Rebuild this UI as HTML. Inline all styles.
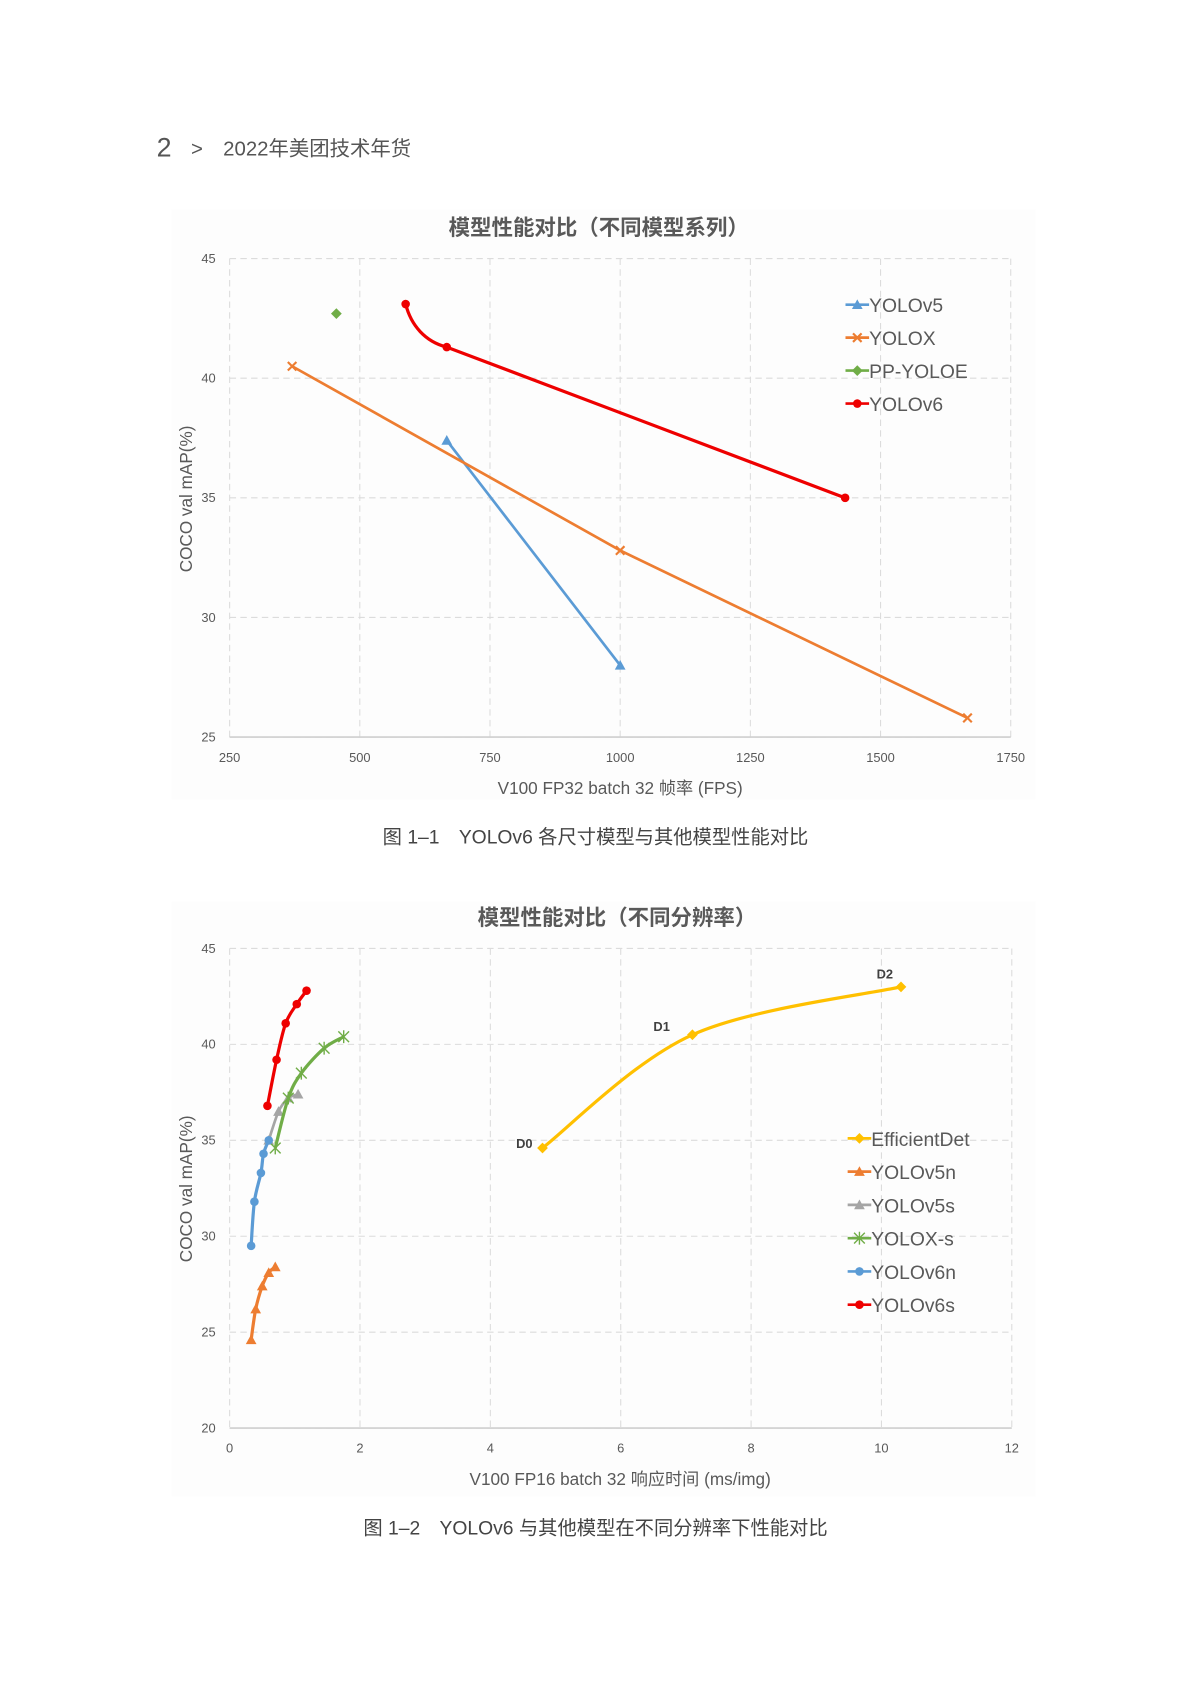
<!DOCTYPE html>
<html><head><meta charset="utf-8"><style>
html,body{margin:0;padding:0;background:#fff}
body{width:1191px;height:1683px;position:relative;overflow:hidden;font-family:"Liberation Sans","Noto Sans CJK SC",sans-serif}
svg{position:absolute;left:0;top:0}
</style></head><body>
<svg id="s" width="1191" height="1683" viewBox="0 0 1110 1568.6" xmlns="http://www.w3.org/2000/svg" font-family="Liberation Sans, Noto Sans CJK SC, sans-serif">
<text x="146" y="146" font-size="25" fill="#555">2</text>
<text x="178" y="145" font-size="19" fill="#555">&gt;</text>
<text x="208" y="145" font-size="19" fill="#555">2022年美团技术年货</text>
<rect x="160" y="195" width="805" height="550" fill="#fdfdfd"/>
<rect x="160" y="840" width="805" height="555" fill="#fdfdfd"/>
<text x="558" y="219" font-size="20" font-weight="bold" fill="#595959" text-anchor="middle">模型性能对比（不同模型系列）</text>
<text x="575" y="862" font-size="20" font-weight="bold" fill="#595959" text-anchor="middle">模型性能对比（不同分辨率）</text>
<text transform="translate(179,465) rotate(-90)" font-size="16" fill="#595959" text-anchor="middle">COCO val mAP(%)</text>
<text transform="translate(179,1108) rotate(-90)" font-size="16" fill="#595959" text-anchor="middle">COCO val mAP(%)</text>
<text x="578" y="740" font-size="16" fill="#595959" text-anchor="middle">V100 FP32 batch 32 帧率 (FPS)</text>
<text x="578" y="1384" font-size="16" fill="#595959" text-anchor="middle">V100 FP16 batch 32 响应时间 (ms/img)</text>
<text x="555" y="786" font-size="18" fill="#444" text-anchor="middle">图 1–1　YOLOv6 各尺寸模型与其他模型性能对比</text>
<text x="555" y="1430" font-size="18" fill="#444" text-anchor="middle">图 1–2　YOLOv6 与其他模型在不同分辨率下性能对比</text>
<g id="g"></g>
</svg>
<script>
var g=document.getElementById('g'),h='';
function C(x0,x1,v0,v1,y0,y1,w0,w1){return function(v,w){return [x0+(v-v0)*(x1-x0)/(v1-v0),y0+(w-w0)*(y1-y0)/(w1-w0)];};}
var A=C(214,942,250,1750,687,241,25,45), B=C(214,943,0,12,1331,884,20,45);
function grid(L,R,T,Bm,nx,ny,xl,yl){
 for(var i=0;i<=nx;i++){var x=L+(R-L)*i/nx;h+='<line x1="'+x+'" y1="'+T+'" x2="'+x+'" y2="'+Bm+'" stroke="#dcdcdc" stroke-dasharray="6,4"/>';
  h+='<text x="'+x+'" y="'+(Bm+23)+'" font-size="12" fill="#595959" text-anchor="middle">'+xl[i]+'</text>';}
 for(var j=0;j<=ny;j++){var y=Bm-(Bm-T)*j/ny;h+='<line x1="'+L+'" y1="'+y+'" x2="'+R+'" y2="'+y+'" stroke="#dcdcdc" stroke-dasharray="6,4"/>';
  h+='<text x="'+(L-13)+'" y="'+(y+4)+'" font-size="12" fill="#595959" text-anchor="end">'+yl[j]+'</text>';}
 h+='<line x1="'+L+'" y1="'+Bm+'" x2="'+R+'" y2="'+Bm+'" stroke="#cfcfcf" stroke-width="1.5"/>';
}
grid(214,942,241,687,6,4,[250,500,750,1000,1250,1500,1750],[25,30,35,40,45]);
grid(214,943,884,1331,6,5,[0,2,4,6,8,10,12],[20,25,30,35,40,45]);
function mk(t,x,y,c){
 if(t=='tri')return '<polygon points="'+x+','+(y-5)+' '+(x-5)+','+(y+4)+' '+(x+5)+','+(y+4)+'" fill="'+c+'"/>';
 if(t=='dot')return '<circle cx="'+x+'" cy="'+y+'" r="4" fill="'+c+'"/>';
 if(t=='dia')return '<polygon points="'+x+','+(y-5)+' '+(x+5)+','+y+' '+x+','+(y+5)+' '+(x-5)+','+y+'" fill="'+c+'"/>';
 if(t=='x')return '<path d="M'+(x-4)+' '+(y-4)+'L'+(x+4)+' '+(y+4)+'M'+(x+4)+' '+(y-4)+'L'+(x-4)+' '+(y+4)+'" stroke="'+c+'" stroke-width="2"/>';
 if(t=='ast')return '<path d="M'+(x-5)+' '+(y-5)+'L'+(x+5)+' '+(y+5)+'M'+(x+5)+' '+(y-5)+'L'+(x-5)+' '+(y+5)+'M'+x+' '+(y-6)+'L'+x+' '+(y+6)+'" stroke="'+c+'" stroke-width="1.3"/>';
 return '';
}
function path(pts){
 var d='M'+pts[0][0]+' '+pts[0][1];
 for(var i=0;i<pts.length-1;i++){var p0=pts[i-1]||pts[i],p1=pts[i],p2=pts[i+1],p3=pts[i+2]||p2;
  d+='C'+(p1[0]+(p2[0]-p0[0])/6)+' '+(p1[1]+(p2[1]-p0[1])/6)+' '+(p2[0]-(p3[0]-p1[0])/6)+' '+(p2[1]-(p3[1]-p1[1])/6)+' '+p2[0]+' '+p2[1];}
 return d;}
function ser(F,data,c,t,w,smooth){
 var p=data.map(function(d){return F(d[0],d[1]);});
 if(p.length>1)h+='<path d="'+(smooth?path(p):'M'+p.join('L'))+'" fill="none" stroke="'+c+'" stroke-width="'+w+'"/>';
 p.forEach(function(q){h+=mk(t,q[0],q[1],c);});
}
ser(A,[[667,37.4],[1000,28.0]],'#5b9bd5','tri',2.5);
ser(A,[[370,40.5],[1000,32.8],[1667,25.8]],'#ed7d31','x',2.5);
ser(A,[[455,42.7]],'#70ad47','dia',2);
var r=[A(588,43.1),A(667,41.3),A(1432,35.0)];
h+='<path d="M'+r[0][0]+' '+r[0][1]+'C'+(r[0][0]+5)+' '+(r[0][1]+20)+' '+(r[1][0]-20)+' '+(r[1][1]-5)+' '+r[1][0]+' '+r[1][1]+'L'+r[2][0]+' '+r[2][1]+'" fill="none" stroke="#e00" stroke-width="3"/>';
r.forEach(function(q){h+=mk('dot',q[0],q[1],'#e00');});
var L1=[['YOLOv5','#5b9bd5','tri'],['YOLOX','#ed7d31','x'],['PP-YOLOE','#70ad47','dia'],['YOLOv6','#e00','dot']];
L1.forEach(function(l,i){var y=284+i*30.7;h+='<line x1="788" y1="'+y+'" x2="810" y2="'+y+'" stroke="'+l[1]+'" stroke-width="2.5"/>'+mk(l[2],799,y,l[1])+'<text x="810" y="'+(y+7)+'" font-size="18" fill="#595959">'+l[0]+'</text>';});
ser(B,[[4.8,34.6],[7.1,40.5],[10.3,43.0]],'#ffc000','dia',3,true);
ser(B,[[0.33,24.6],[0.4,26.2],[0.5,27.4],[0.6,28.1],[0.7,28.4]],'#ed7d31','tri',3,true);
ser(B,[[0.6,35.0],[0.75,36.5],[0.9,37.2],[1.05,37.4]],'#a5a5a5','tri',2.5,true);
ser(B,[[0.7,34.6],[0.9,37.2],[1.1,38.5],[1.45,39.8],[1.75,40.4]],'#70ad47','ast',3,true);
ser(B,[[0.33,29.5],[0.38,31.8],[0.48,33.3],[0.52,34.3],[0.6,35.0]],'#5b9bd5','dot',3,true);
ser(B,[[0.58,36.8],[0.72,39.2],[0.86,41.1],[1.03,42.1],[1.18,42.8]],'#e00','dot',3,true);
h+='<text x="481" y="1070" font-size="12" font-weight="bold" fill="#404040">D0</text><text x="609" y="961" font-size="12" font-weight="bold" fill="#404040">D1</text><text x="817" y="912" font-size="12" font-weight="bold" fill="#404040">D2</text>';
var L2=[['EfficientDet','#ffc000','dia'],['YOLOv5n','#ed7d31','tri'],['YOLOv5s','#a5a5a5','tri'],['YOLOX-s','#70ad47','ast'],['YOLOv6n','#5b9bd5','dot'],['YOLOv6s','#e00','dot']];
L2.forEach(function(l,i){var y=1061+i*31;h+='<line x1="790" y1="'+y+'" x2="812" y2="'+y+'" stroke="'+l[1]+'" stroke-width="2.5"/>'+mk(l[2],801,y,l[1])+'<text x="812" y="'+(y+7)+'" font-size="18" fill="#595959">'+l[0]+'</text>';});
g.innerHTML=h;
</script>
</body></html>
